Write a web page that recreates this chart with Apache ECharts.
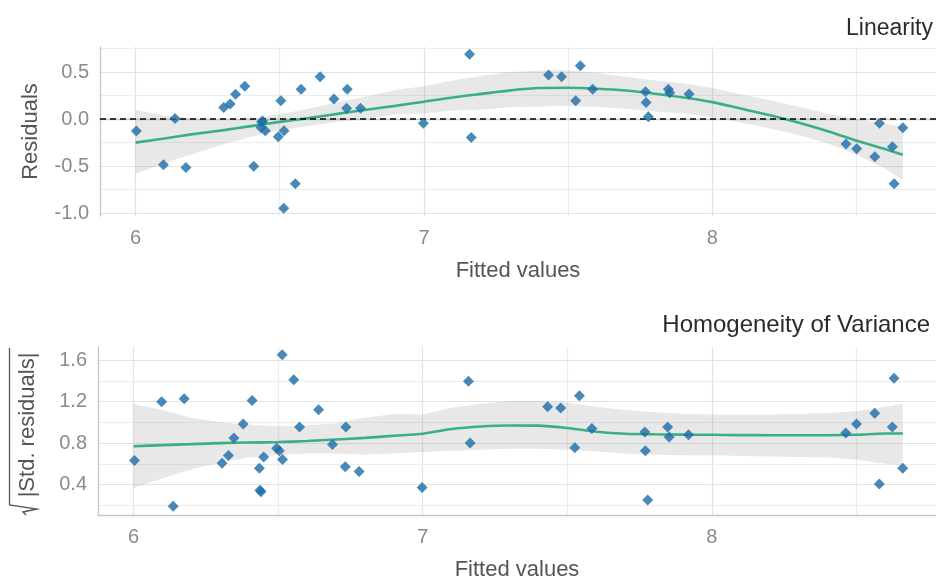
<!DOCTYPE html>
<html>
<head>
<meta charset="utf-8">
<script src="https://cdn.jsdelivr.net/npm/echarts@6/dist/echarts.min.js"></script>
<style>
  html, body { margin: 0; padding: 0; background: #ffffff; }
  #chart { width: 936px; height: 582px; }
</style>
</head>
<body>
<div id="chart"></div>
<script>
// Model diagnostics: fitted values, raw residuals and sqrt(|standardized residuals|)
const fitted = [6.003, 6.097, 6.137, 6.175, 6.306, 6.328, 6.347, 6.379, 6.41, 6.435,
  6.437, 6.441, 6.45, 6.495, 6.504, 6.515, 6.514, 6.554, 6.574, 6.64,
  6.688, 6.732, 6.734, 6.78, 6.998, 7.158, 7.164, 7.432, 7.477, 7.526,
  7.542, 7.585, 7.768, 7.77, 7.778, 7.847, 7.852, 7.919, 8.463, 8.5,
  8.563, 8.579, 8.624, 8.63, 8.66];
const residuals = [-0.128, -0.486, 0.007, -0.514, 0.124, 0.16, 0.263, 0.348, -0.5, -0.09,
  -0.03, -0.02, -0.125, -0.188, 0.195, -0.124, -0.947, -0.688, 0.316, 0.45,
  0.213, 0.114, 0.316, 0.114, -0.043, 0.69, -0.195, 0.468, 0.45, 0.195,
  0.567, 0.316, 0.29, 0.177, 0.025, 0.316, 0.28, 0.266, -0.266, -0.316,
  -0.401, -0.043, -0.295, -0.688, -0.093];
const sqrtStdResid = [0.633, 1.198, 0.192, 1.227, 0.605, 0.681, 0.85, 0.983, 1.21, 0.557,
  0.345, 0.331, 0.665, 0.75, 0.726, 0.643, 1.652, 1.411, 0.954, 1.122,
  0.786, 0.573, 0.954, 0.526, 0.373, 1.395, 0.8, 1.15, 1.138, 0.754,
  1.255, 0.941, 0.906, 0.726, 0.252, 0.954, 0.859, 0.881, 0.897, 0.983,
  1.088, 0.405, 0.954, 1.424, 0.557];

// Loess smooths with confidence bands, sampled along the fitted range
const smoothX = [6.0, 6.1, 6.2, 6.3, 6.4, 6.5, 6.6, 6.7, 6.8, 6.9, 7.0, 7.1, 7.2, 7.3,
  7.4, 7.5, 7.6, 7.7, 7.8, 7.9, 8.0, 8.1, 8.2, 8.3, 8.4, 8.5, 8.6, 8.66];
const resSmooth = [-0.25, -0.206, -0.16, -0.12, -0.075, -0.03, 0.01, 0.055, 0.10, 0.14,
  0.185, 0.23, 0.268, 0.305, 0.33, 0.333, 0.323, 0.303, 0.27, 0.23,
  0.18, 0.11, 0.04, -0.04, -0.13, -0.23, -0.32, -0.38];
const resUpper = [0.10, 0.035, 0.005, -0.01, 0.005, 0.05, 0.11, 0.18, 0.24, 0.31,
  0.35, 0.41, 0.46, 0.50, 0.515, 0.52, 0.49, 0.45, 0.41, 0.38,
  0.33, 0.26, 0.20, 0.13, 0.06, 0.0, -0.05, -0.08];
const resLower = [-0.58, -0.47, -0.37, -0.27, -0.19, -0.12, -0.07, -0.03, 0.0, 0.05,
  0.06, 0.09, 0.10, 0.125, 0.135, 0.14, 0.13, 0.11, 0.08, 0.06,
  0.02, -0.04, -0.10, -0.17, -0.26, -0.38, -0.53, -0.65];
const varSmooth = [0.77, 0.78, 0.79, 0.80, 0.805, 0.81, 0.82, 0.835, 0.85, 0.87,
  0.89, 0.935, 0.96, 0.97, 0.968, 0.945, 0.91, 0.89, 0.885, 0.882,
  0.88, 0.877, 0.876, 0.876, 0.876, 0.88, 0.892, 0.892];
const varUpper = [1.176, 1.12, 1.045, 1.0, 0.975, 0.964, 0.97, 0.99, 1.045, 1.08,
  1.075, 1.14, 1.18, 1.205, 1.205, 1.19, 1.15, 1.12, 1.10, 1.08,
  1.075, 1.075, 1.075, 1.08, 1.09, 1.11, 1.15, 1.176];
const varLower = [0.367, 0.46, 0.545, 0.615, 0.66, 0.685, 0.70, 0.70, 0.69, 0.70,
  0.715, 0.725, 0.735, 0.745, 0.745, 0.735, 0.72, 0.70, 0.688, 0.684,
  0.682, 0.675, 0.67, 0.667, 0.66, 0.64, 0.60, 0.59];

// Axis ticks and grid breaks
const xTicks = [6, 7, 8];
const xMinor = [6.5, 7.5, 8.5];
const resTicks = [-1.0, -0.5, 0.0, 0.5];
const resMinor = [-0.75, -0.25, 0.25, 0.75];
const varTicks = [0.4, 0.8, 1.2, 1.6];
const varMinor = [0.2, 0.6, 1.0, 1.4];
const refLine = [0];

const FONT = 'Liberation Sans, Arial, sans-serif';
const POINT = '#1b6ca8';
const SMOOTH = '#3aaf85';
const BAND = 'rgba(150,150,150,0.22)';
const TICK_COLOR = '#8d8a87';
const TITLE_COLOR = '#555555';

function gridLines(xs, xsMinor, ys, ysMinor) {
  const major = { color: '#e2e2e2', width: 1.2, type: 'solid' };
  const minor = { color: '#ececec', width: 1.2, type: 'solid' };
  const data = [];
  xs.forEach(v => data.push({ xAxis: v, lineStyle: major }));
  xsMinor.forEach(v => data.push({ xAxis: v, lineStyle: minor }));
  ys.forEach(v => data.push({ yAxis: v, lineStyle: major }));
  ysMinor.forEach(v => data.push({ yAxis: v, lineStyle: minor }));
  return {
    silent: true, z: 0, symbol: ['none', 'none'], label: { show: false },
    emphasis: { disabled: true }, animation: false, data: data
  };
}

function bandSeries(idx, upper, lower, marks) {
  return {
    type: 'custom', xAxisIndex: idx, yAxisIndex: idx, z: 1, silent: true,
    data: smoothX.map((x, i) => [x, lower[i], upper[i]]),
    encode: { x: 0, y: [1, 2] },
    renderItem: function (params, api) {
      if (params.dataIndex !== 0) return;
      const pts = [];
      for (let i = 0; i < smoothX.length; i++) pts.push(api.coord([smoothX[i], upper[i]]));
      for (let i = smoothX.length - 1; i >= 0; i--) pts.push(api.coord([smoothX[i], lower[i]]));
      return { type: 'polygon', shape: { points: pts }, style: { fill: BAND } };
    },
    markLine: marks
  };
}

function smoothSeries(idx, ys, extra) {
  return Object.assign({
    type: 'line', xAxisIndex: idx, yAxisIndex: idx, z: 2, silent: true,
    data: smoothX.map((x, i) => [x, ys[i]]),
    showSymbol: false, smooth: 0.3,
    lineStyle: { color: SMOOTH, width: 2.6 }
  }, extra || {});
}

function pointSeries(idx, ys) {
  return {
    type: 'scatter', xAxisIndex: idx, yAxisIndex: idx, z: 4, silent: true,
    data: fitted.map((x, i) => [x, ys[i]]),
    symbol: 'diamond', symbolSize: 11,
    itemStyle: { color: POINT, opacity: 0.8 }
  };
}

function xAxisDef(idx) {
  return {
    type: 'value', gridIndex: idx, min: 5.877, max: 8.775,
    name: 'Fitted values', nameLocation: 'middle', nameGap: 44,
    nameTextStyle: { fontFamily: FONT, fontSize: 22, color: TITLE_COLOR },
    axisLine: { show: true, lineStyle: { color: '#c6c6c6', width: 1.3 } },
    axisTick: { show: false },
    splitLine: { show: false },
    axisLabel: { customValues: xTicks, margin: 12, fontFamily: FONT, fontSize: 20, color: TICK_COLOR,
      formatter: v => String(Math.round(v)) }
  };
}

function yAxisDef(idx, min, max, ticks, name) {
  return {
    type: 'value', gridIndex: idx, min: min, max: max,
    name: name, nameLocation: 'middle', nameGap: 58, nameRotate: 90,
    nameTextStyle: { fontFamily: FONT, fontSize: 22, color: TITLE_COLOR },
    axisLine: { show: true, lineStyle: { color: '#c6c6c6', width: 1.3 } },
    axisTick: { show: false },
    splitLine: { show: false },
    axisLabel: { customValues: ticks, margin: 11, fontFamily: FONT, fontSize: 20, color: TICK_COLOR,
      formatter: v => v.toFixed(1) }
  };
}

const chart = echarts.init(document.getElementById('chart'), null, { renderer: 'canvas' });

chart.setOption({
  animation: false,
  backgroundColor: '#ffffff',
  title: [
    { text: 'Linearity', right: -2, top: 12,
      textStyle: { fontFamily: FONT, fontSize: 23, fontWeight: 'normal', color: '#2b2b2b' } },
    { text: 'Homogeneity of Variance', right: 1, top: 308,
      textStyle: { fontFamily: FONT, fontSize: 24, fontWeight: 'normal', color: '#2b2b2b' } }
  ],
  grid: [
    { left: 100, top: 47, width: 836, height: 169 },
    { left: 98, top: 347, width: 838, height: 170 }
  ],
  xAxis: [xAxisDef(0), xAxisDef(1)],
  yAxis: [
    yAxisDef(0, -1.03, 0.766, resTicks, 'Residuals'),
    yAxisDef(1, 0.107, 1.726, varTicks, '')
  ],
  graphic: [
    { type: 'text', x: 28, y: 425, rotation: Math.PI / 2, silent: true,
      style: { text: '|Std. residuals|', fontFamily: FONT, fontSize: 22, fill: TITLE_COLOR,
        align: 'center', verticalAlign: 'middle' } },
    { type: 'polyline', silent: true,
      shape: { points: [[26, 515], [23, 512], [37, 509], [9.5, 505], [9.5, 348]] },
      style: { stroke: TITLE_COLOR, lineWidth: 1.3, fill: null } }
  ],
  series: [
    bandSeries(0, resUpper, resLower, gridLines(xTicks, xMinor, resTicks, resMinor)),
    smoothSeries(0, resSmooth, {
      markLine: {
        silent: true, z: 3, symbol: ['none', 'none'], label: { show: false },
        emphasis: { disabled: true },
        lineStyle: { color: '#000000', type: [6, 4], width: 1.5 },
        data: refLine.map(v => ({ yAxis: v }))
      }
    }),
    pointSeries(0, residuals),
    bandSeries(1, varUpper, varLower, gridLines(xTicks, xMinor, varTicks, varMinor)),
    smoothSeries(1, varSmooth),
    pointSeries(1, sqrtStdResid)
  ]
});
</script>
</body>
</html>
